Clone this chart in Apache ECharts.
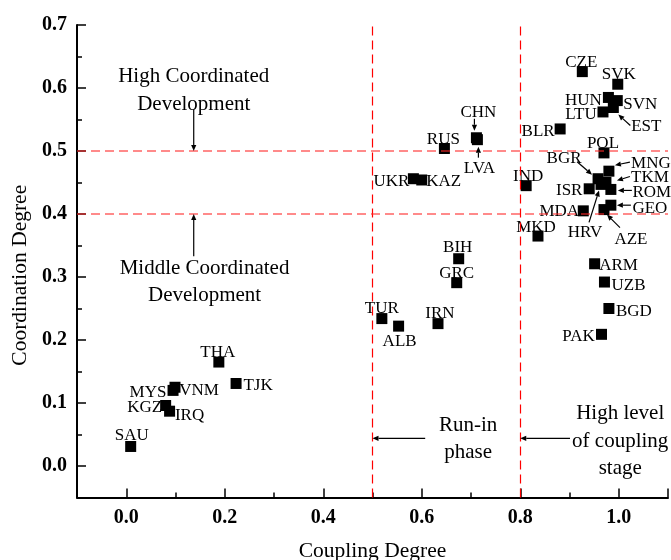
<!DOCTYPE html>
<html><head><meta charset="utf-8">
<script src="https://cdn.jsdelivr.net/npm/echarts@6/dist/echarts.min.js"></script>
<style>html,body{margin:0;padding:0;background:#fff}#c{width:671px;height:560px}</style>
</head><body><div id="c"></div>
<script>
// ---- data ----
const countries = ['SAU','KGZ','IRQ','MYS','VNM','THA','TJK','TUR','ALB','IRN','BIH','GRC','RUS','CHN','LVA','UKR','KAZ','IND','MKD','CZE','SVK','HUN','SVN','EST','LTU','BLR','POL','BGR','MNG','TKM','HRV','ROM','ISR','GEO','AZE','MDA','ARM','UZB','BGD','PAK'];
const couplingDegree = [0.009,0.080,0.088,0.095,0.099,0.188,0.223,0.519,0.553,0.633,0.675,0.671,0.646,0.711,0.713,0.583,0.600,0.812,0.836,0.926,0.998,0.979,0.997,0.989,0.968,0.881,0.970,0.958,0.980,0.974,0.964,0.984,0.940,0.984,0.970,0.928,0.951,0.971,0.980,0.965];
const coordinationDegree = [0.031,0.096,0.087,0.120,0.125,0.165,0.131,0.234,0.222,0.226,0.329,0.291,0.504,0.521,0.518,0.456,0.454,0.445,0.365,0.626,0.606,0.585,0.580,0.569,0.562,0.535,0.497,0.456,0.468,0.450,0.447,0.439,0.440,0.414,0.407,0.405,0.321,0.292,0.250,0.209];
const xTickLabels = ['0.0','0.2','0.4','0.6','0.8','1.0'];
const yTickLabels = ['0.0','0.1','0.2','0.3','0.4','0.5','0.6','0.7'];
const couplingThresholds = [0.5, 0.8];
const coordinationThresholds = [0.4, 0.5];

// ---- label placement (pixel offsets of label centre from marker centre) ----
const labelOffset = {
  SAU:[1,-13], KGZ:[-21,0], IRQ:[20,2], MYS:[-25,0], VNM:[24,1], THA:[-1,-12], TJK:[22,0],
  TUR:[0,-12], ALB:[1,13], IRN:[2,-12], BIH:[-1,-13], GRC:[0,-11], RUS:[-1,-11],
  CHN:[2,-27], LVA:[2,27], UKR:[-22,1], KAZ:[22,0], IND:[2,-11], MKD:[-2,-11],
  CZE:[-1,-11], SVK:[1,-12], HUN:[-25,1], SVN:[23,2], EST:[33,17], LTU:[-22,1],
  BLR:[-22,1], POL:[-1,-11], BGR:[-34,-22], MNG:[42,-10], TKM:[44,-7], HRV:[-16,46],
  ROM:[41,1], ISR:[-20,0], GEO:[39,1], AZE:[27,28], MDA:[-24,-1],
  ARM:[24,0], UZB:[24,1], BGD:[25,1], PAK:[-23,0]
};
const LABEL_DY = 2; // baseline correction for the serif font
// pointer arrows (pixel offsets from marker centre: tail, head)
const pointerArrows = {
  CHN:[[-2,-19],[-2,-7]], LVA:[[1,18],[1,7]], EST:[[17,18],[5,7]],
  BGR:[[-21,-17],[-6,-4]], MNG:[[21,-9],[6,-6]], TKM:[[24,-6],[11,-2]],
  ROM:[[21,1],[7,1]], GEO:[[20,0],[6,0]], HRV:[[-12,38],[-2,6]], AZE:[[16,18],[3,5]]
};
// region annotations (data coordinates)
const regionNotes = [
  {text:'High Coordinated\nDevelopment', at:[0.137,0.596]},
  {text:'Middle Coordinated\nDevelopment', at:[0.159,0.292]},
  {text:'Run-in\nphase', at:[0.694,0.0425]},
  {text:'High level\nof coupling\nstage', at:[1.003,0.0395]}
];
const regionArrows = [
  {from:[0.137,0.566], to:[0.137,coordinationThresholds[1]]},
  {from:[0.137,0.333], to:[0.137,coordinationThresholds[0]]},
  {from:[0.607,0.044], to:[couplingThresholds[0],0.044]},
  {from:[0.901,0.044], to:[couplingThresholds[1],0.044]}
];

const FONT = 'Liberation Serif, Times New Roman, serif';
const SYM = 11;
const isMult = (v, step) => Math.abs(v/step - Math.round(v/step)) < 1e-6;

const points = countries.map((c,i) => {
  const o = labelOffset[c] || [0,-12];
  return {
    name: c,
    value: [couplingDegree[i], coordinationDegree[i]],
    label: { position: [SYM/2 + o[0], SYM/2 + o[1] + LABEL_DY], align: 'center', verticalAlign: 'middle' }
  };
});

const markLineData = [
  ...couplingThresholds.map(v => ({xAxis: v, lineStyle:{color:'#ff0000', width:1.2, type:[9,5]}})),
  ...coordinationThresholds.map(v => ({yAxis: v, lineStyle:{color:'rgba(255,40,40,0.72)', width:1.5, type:[9,5]}}))
];

const option = {
  animation: false,
  backgroundColor: '#fff',
  grid: { left: 77, right: 3, top: 25, bottom: 62.5, containLabel: false, outerBoundsMode: 'none' },
  xAxis: [{
    type: 'value', min: -0.1, max: 1.1, minInterval: 0.2, maxInterval: 0.2, splitNumber: 6,
    position: 'bottom',
    name: 'Coupling Degree', nameLocation: 'middle', nameGap: 43,
    nameTextStyle: { fontFamily: FONT, fontSize: 21.5, color: '#000' },
    axisLine: { onZero: false, lineStyle: { color: '#000', width: 2 } },
    axisTick: { inside: true, length: 9, lineStyle: { color: '#000', width: 1.5 } },
    axisLabel: { fontFamily: FONT, fontWeight: 'bold', fontSize: 20, color: '#000', margin: 10,
      formatter: v => { if (v < -1e-9 || v > 1.0 + 1e-9 || !isMult(v,0.2)) return ''; return xTickLabels[Math.round(v/0.2)]; } },
    splitLine: { show: false }
  }, {
    type: 'value', min: -0.1, max: 1.1, interval: 0.2, position: 'bottom',
    axisLine: { show: false, onZero: false },
    axisTick: { inside: true, length: 5, lineStyle: { color: '#000', width: 1.5 } },
    axisLabel: { show: false }, splitLine: { show: false }
  }],
  yAxis: [{
    type: 'value', min: -0.05, max: 0.7, minInterval: 0.1, maxInterval: 0.1, splitNumber: 7,
    position: 'left',
    name: 'Coordination Degree', nameLocation: 'middle', nameGap: 37, nameRotate: 90,
    nameTextStyle: { fontFamily: FONT, fontSize: 21.5, color: '#000', padding: [0, 28, 0, 0] },
    axisLine: { onZero: false, lineStyle: { color: '#000', width: 2 } },
    axisTick: { inside: true, length: 9, lineStyle: { color: '#000', width: 1.5 } },
    axisLabel: { fontFamily: FONT, fontWeight: 'bold', fontSize: 20, color: '#000', margin: 10,
      formatter: v => { if (v < -1e-9 || !isMult(v,0.1)) return ''; return yTickLabels[Math.round(v/0.1)]; } },
    splitLine: { show: false }
  }, {
    type: 'value', min: -0.05, max: 0.7, interval: 0.1, position: 'left',
    axisLine: { show: false, onZero: false },
    axisTick: { inside: true, length: 5, lineStyle: { color: '#000', width: 1.5 } },
    axisLabel: { show: false }, splitLine: { show: false }
  }],
  series: [{
    type: 'scatter', xAxisIndex: 0, yAxisIndex: 0,
    symbol: 'rect', symbolSize: SYM,
    itemStyle: { color: '#000', opacity: 1 },
    label: { show: true, formatter: '{b}', fontFamily: FONT, fontSize: 17, color: '#000', opacity: 1 },
    emphasis: { disabled: true },
    data: points,
    markLine: { silent: true, symbol: 'none', label: { show: false }, data: markLineData, animation: false }
  }]
};

const chart = echarts.init(document.getElementById('c'));
chart.setOption(option);

function arrowEls(p1, p2) {
  const dx = p2[0]-p1[0], dy = p2[1]-p1[1], L = Math.hypot(dx,dy) || 1, ux = dx/L, uy = dy/L;
  const hl = 6, hw = 2.6;
  const bx = p2[0]-ux*hl, by = p2[1]-uy*hl;
  return [
    { type:'line', z:100, silent:true, shape:{x1:p1[0],y1:p1[1],x2:bx,y2:by}, style:{stroke:'#000', lineWidth:1.2} },
    { type:'polygon', z:100, silent:true, shape:{points:[[p2[0],p2[1]],[bx-uy*hw,by+ux*hw],[bx+uy*hw,by-ux*hw]]}, style:{fill:'#000'} }
  ];
}
const toPx = v => chart.convertToPixel({ gridIndex: 0 }, v);
const g = [];
Object.keys(pointerArrows).forEach(c => {
  const i = countries.indexOf(c);
  const p = toPx([couplingDegree[i], coordinationDegree[i]]);
  const [t, h] = pointerArrows[c];
  g.push(...arrowEls([p[0]+t[0], p[1]+t[1]], [p[0]+h[0], p[1]+h[1]]));
});
regionArrows.forEach(a => g.push(...arrowEls(toPx(a.from), toPx(a.to))));
regionNotes.forEach(n => {
  const p = toPx(n.at);
  g.push({ type:'text', z:100, silent:true, x:p[0], y:p[1],
    style:{ text:n.text, fontFamily:FONT, fontSize:21, fill:'#000', align:'center', verticalAlign:'middle', lineHeight:27.5 } });
});
chart.setOption({ graphic: g });
</script></body></html>
